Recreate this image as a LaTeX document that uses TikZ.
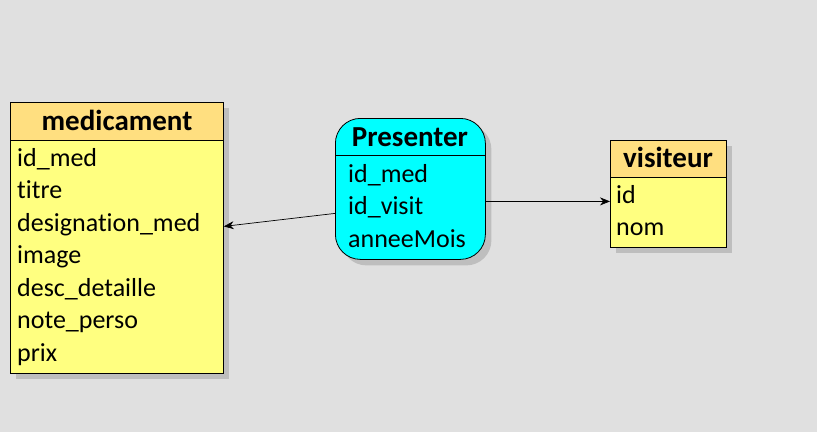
\documentclass[tikz,border=0pt]{standalone}
\usepackage{fontspec}
\setmainfont{Carlito}[Ligatures={NoCommon}]
\usetikzlibrary{arrows.meta,shadows}
\definecolor{bg}{RGB}{224,224,224}
\definecolor{hdr}{RGB}{255,223,128}
\definecolor{bdy}{RGB}{255,255,128}
\definecolor{shd}{RGB}{190,190,190}
\definecolor{aqua}{RGB}{0,255,255}
\tikzset{
  shadowed/.style={drop shadow={shadow xshift=6pt,shadow yshift=-6pt,fill=shd,opacity=1}},
  tablebox/.style={draw,line width=0.8pt,fill=bdy,anchor=north west,inner sep=0pt,shadowed},
  hdrbox/.style={draw,line width=0.8pt,fill=hdr,anchor=north west,inner sep=0pt},
  hdrtext/.style={inner sep=0pt,anchor=base,font=\fontsize{29}{35}\selectfont\bfseries},
  rowtext/.style={inner sep=0pt,anchor=base west,font=\fontsize{26}{31}\selectfont},
  arr/.style={-{Stealth[length=10pt,width=8pt]},line width=0.7pt},
}
\begin{document}
\begin{tikzpicture}[x=1pt,y=-1pt]
\fill[bg] (0,0) rectangle (817,432);
\useasboundingbox (0,0) rectangle (817,432);
% medicament
\node[tablebox,minimum width=213pt,minimum height=271pt] (med) at (10,102) {};
\node[hdrbox,minimum width=213pt,minimum height=38pt] (medh) at (10,102) {};
\node[hdrtext] (medt) at (117,130) {medicament};
\node[rowtext] (m1) at (17,166) {id\_med};
\node[rowtext] (m2) at (17,198.5) {titre};
\node[rowtext] (m3) at (17,231) {designation\_med};
\node[rowtext] (m4) at (17,263.5) {image};
\node[rowtext] (m5) at (17,296) {desc\_detaille};
\node[rowtext] (m6) at (17,328.5) {note\_perso};
\node[rowtext] (m7) at (17,361) {prix};
% Presenter
\node[draw,line width=0.8pt,fill=aqua,rounded corners=25pt,anchor=north west,inner sep=0pt,
  minimum width=150pt,minimum height=141pt,shadowed] (pres) at (335,118) {};
\draw[line width=0.8pt] (335,155) -- (485,155);
\node[hdrtext] (prest) at (410,146) {Presenter};
\node[rowtext] (p1) at (348,182) {id\_med};
\node[rowtext] (p2) at (348,214.5) {id\_visit};
\node[rowtext] (p3) at (348,247) {anneeMois};
% visiteur
\node[tablebox,minimum width=116pt,minimum height=107pt] (vis) at (610,140) {};
\node[hdrbox,minimum width=116pt,minimum height=37pt] (vish) at (610,140) {};
\node[hdrtext] (vist) at (668,167) {visiteur};
\node[rowtext] (v1) at (616,203) {id};
\node[rowtext] (v2) at (616,235.5) {nom};
% connectors
\draw[arr] ([yshift=-24.5pt]pres.west) -- ([yshift=11.5pt]med.east);
\draw[arr] ([yshift=-12.5pt]pres.east) -- ([yshift=-7.5pt]vis.west);
\end{tikzpicture}
\end{document}
